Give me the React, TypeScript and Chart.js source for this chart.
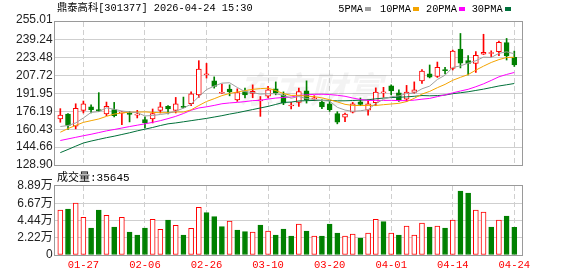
import React, { useEffect, useRef } from 'react';
import { Chart, registerables } from 'chart.js';

Chart.register(...registerables);

// ---- data ----
const dates = [
  '01-22', '01-23', '01-26', '01-27', '01-28', '01-29', '01-30', '02-02', '02-03', '02-04',
  '02-05', '02-06', '02-09', '02-10', '02-11', '02-12', '02-13', '02-24', '02-25', '02-26',
  '02-27', '03-02', '03-03', '03-04', '03-05', '03-06', '03-09', '03-10', '03-11', '03-12',
  '03-13', '03-16', '03-17', '03-18', '03-19', '03-20', '03-23', '03-24', '03-25', '03-26',
  '03-27', '03-30', '03-31', '04-01', '04-02', '04-03', '04-07', '04-08', '04-09', '04-10',
  '04-13', '04-14', '04-15', '04-16', '04-17', '04-20', '04-21', '04-22', '04-23', '04-24',
];
const opens = [
  169.5, 173.9, 163.1, 177.1, 180.3, 177.7, 173.9, 177.7, 174.6, 174.8,
  172.9, 168.9, 169.5, 177.1, 180.6, 177.1, 180.6, 182.9, 190.8, 208.5,
  203.1, 192.2, 195.8, 186.4, 193.7, 192.1, 185.5, 189.5, 196.1, 190.8,
  180.9, 184.0, 194.3, 187.3, 184.4, 182.9, 174.2, 171.1, 175.5, 184.7,
  177.2, 183.8, 192.5, 198.7, 192.6, 186.9, 193.0, 203.1, 209.2, 207.0,
  212.7, 214.0, 231.1, 221.0, 218.4, 226.7, 227.2, 228.9, 236.8, 223.8,
];
const highs = [
  178.6, 174.2, 182.9, 185.3, 182.0, 192.7, 184.4, 184.1, 176.0, 176.2,
  177.1, 171.3, 178.3, 184.1, 181.2, 188.5, 188.8, 193.4, 220.9, 218.5,
  206.6, 200.3, 199.6, 196.1, 196.7, 199.6, 189.3, 198.3, 202.2, 193.4,
  184.1, 196.7, 203.1, 190.0, 186.4, 185.0, 175.9, 174.6, 184.1, 188.0,
  186.4, 196.9, 197.4, 199.6, 195.2, 199.1, 202.2, 213.1, 217.1, 219.7,
  215.1, 230.2, 244.9, 225.4, 229.0, 244.2, 229.6, 238.1, 240.5, 229.3,
];
const lows = [
  166.6, 160.2, 160.8, 174.8, 174.8, 176.0, 172.4, 171.3, 164.5, 166.9,
  170.4, 161.6, 166.0, 174.8, 173.9, 174.8, 179.2, 181.2, 188.5, 205.6,
  196.7, 192.0, 189.9, 185.0, 188.0, 188.2, 171.8, 188.0, 190.8, 182.1,
  178.3, 180.6, 183.5, 185.6, 178.6, 176.2, 165.2, 167.2, 174.8, 181.2,
  172.9, 181.2, 188.6, 190.8, 185.0, 185.0, 192.1, 200.9, 205.7, 206.1,
  209.2, 212.7, 214.5, 208.3, 210.5, 226.3, 224.5, 225.4, 221.5, 215.8,
];
const closes = [
  173.0, 163.9, 178.8, 182.9, 177.7, 176.6, 180.6, 172.4, 175.5, 173.6,
  173.4, 166.0, 174.2, 180.1, 178.3, 182.9, 179.7, 191.7, 213.6, 209.2,
  198.1, 192.9, 193.4, 192.8, 190.8, 193.9, 186.2, 195.2, 192.6, 183.5,
  181.4, 193.7, 186.2, 188.2, 180.1, 177.7, 166.7, 173.9, 182.9, 182.4,
  182.9, 193.2, 192.8, 194.3, 186.0, 193.2, 195.2, 211.8, 206.3, 215.1,
  212.1, 229.3, 218.8, 218.4, 225.6, 228.2, 227.6, 237.1, 225.0, 217.1,
];
const volumes = [
  57980, 59270, 67000, 48570, 34790, 57980, 51150, 36080, 48570, 29630,
  25770, 34790, 45990, 33110, 45090, 38260, 25770, 34400, 61450, 54500,
  49350, 36460, 43800, 32210, 30020, 29630, 38650, 30920, 25770, 33500,
  24480, 39940, 30920, 24480, 24480, 39940, 28340, 24480, 27060, 21900,
  28340, 45990, 42900, 28340, 25770, 37360, 25770, 41230, 36080, 37360,
  34790, 45090, 82460, 79880, 57980, 55400, 36080, 45090, 50250, 35645,
];
const ma5Head = [162.8, 163.7, 166.0, 170.4];
const ma10Head = [157.8, 161.0, 163.8, 166.5, 168.0, 169.5, 171.8, 173.8, 174.8];
const ma20Head = [
  150.5, 151.9, 153.3, 154.7, 156.0, 157.5, 159.0, 160.2, 161.5, 162.8,
  164.0, 165.2, 166.5, 168.0, 169.8, 171.8, 174.3, 177.2, 179.2,
];
const ma30Head = [
  139.8, 142.6, 145.5, 148.3, 150.0, 151.5, 153.0, 154.3, 155.8, 157.3,
  159.0, 160.5, 162.0, 163.7, 165.2, 166.0, 167.0, 168.0, 169.0, 170.0,
  171.2, 172.4, 173.8, 175.0, 176.4, 177.8, 179.2, 180.6, 182.3,
];
const labelIndexes = [3, 11, 19, 27, 35, 43, 51, 59];
const priceTicks = [128.90, 144.66, 160.43, 176.19, 191.95, 207.72, 223.48, 239.24, 255.01];
const volTicks = [0, 22225, 44450, 66675, 88900];
const volTickLabels = ['0', '2.22万', '4.44万', '6.67万', '8.89万'];
const maNames = ['5PMA', '10PMA', '20PMA', '30PMA'];
const lastVolume = 35645;

// ---- styles ----
const RED = '#ff0000';
const GREEN = '#008000';
const MA_COLORS = ['#a0a0a0', '#f4a400', '#ff00ff', '#00703a'];
const TICK_FONT = "'Liberation Sans', 'Noto Sans CJK SC', sans-serif";
const MONO = "'Liberation Mono', 'Noto Sans CJK SC', monospace";

function movingAverage(n: number, head: number[]) {
  return closes.map((_, i) => {
    if (i < n - 1) return head[i];
    let s = 0;
    for (let k = i - n + 1; k <= i; k++) s += closes[k];
    return +(s / n).toFixed(2);
  });
}

const X_MIN = -0.69;
const X_MAX = 60.0;

const framePlugin = {
  id: 'frame',
  afterDraw(chart: any) {
    const { ctx, chartArea } = chart;
    const { left, right, top, bottom } = chartArea;
    ctx.save();
    ctx.strokeStyle = '#9a9a9a';
    ctx.lineWidth = 1;
    ctx.strokeRect(left - 0.5, top - 0.5, right - left + 1, bottom - top + 1);
    ctx.restore();
  },
};

const mainExtras = {
  id: 'mainExtras',
  beforeDatasetsDraw(chart: any) {
    const { ctx, chartArea } = chart;
    ctx.save();
    ctx.beginPath();
    ctx.rect(chartArea.left, chartArea.top, chartArea.right - chartArea.left, chartArea.bottom - chartArea.top);
    ctx.clip();
    ctx.fillStyle = 'rgba(150,150,150,0.11)';
    ctx.font = "italic bold 36px 'Noto Sans CJK SC'";
    ctx.textBaseline = 'middle';
    ctx.textAlign = 'left';
    ctx.fillText('东方财富', 238, 89);
    ctx.restore();
  },
  afterDraw(chart: any) {
    const { ctx } = chart;
    const ys = chart.scales.y;
    const topVal = priceTicks[priceTicks.length - 1];
    ctx.save();
    ctx.fillStyle = '#222';
    ctx.font = `12px ${TICK_FONT}`;
    ctx.textAlign = 'right';
    ctx.textBaseline = 'alphabetic';
    ctx.fillText(topVal.toFixed(2), 52.7, ys.getPixelForValue(topVal) + 0.5);
    ctx.restore();
  },
};

export default function App() {
  const mainRef = useRef<HTMLCanvasElement>(null);
  const volRef = useRef<HTMLCanvasElement>(null);

  useEffect(() => {
    const up = closes.map((c, i) => c >= opens[i]);
    const volUp = closes.map((c, i) => (i === 0 ? c >= opens[0] : c >= closes[i - 1]));
    const candleColor = up.map((u) => (u ? RED : GREEN));
    const bodyFill = up.map((u) => (u ? '#ffffff' : GREEN));
    const mas = [movingAverage(5, ma5Head), movingAverage(10, ma10Head), movingAverage(20, ma20Head), movingAverage(30, ma30Head)];

    const xScale = (showLabels: boolean) => ({
      type: 'linear',
      min: X_MIN,
      max: X_MAX,
      offset: false,
      grid: { offset: false, color: '#cfcfcf', lineWidth: 1, drawTicks: false },
      border: { display: false, dash: [5, 3] },
      ticks: {
        display: showLabels,
        color: RED,
        padding: 4,
        maxRotation: 0,
        autoSkip: false,
        font: { family: MONO, size: 10.5 },
        callback: (v: number) => dates[v] ?? '',
      },
      afterBuildTicks: (s: any) => {
        s.ticks = labelIndexes.map((v) => ({ value: v }));
      },
      afterFit: (s: any) => {
        s.height = showLabels ? 21 : 0;
      },
    });

    const main = new Chart(mainRef.current!, {
      type: 'bar',
      data: {
        datasets: [
          ...mas.map((arr, k) => ({
            type: 'line' as const,
            label: maNames[k],
            data: arr.map((v, i) => ({ x: i, y: v })),
            borderColor: MA_COLORS[k],
            borderWidth: 1,
            pointRadius: 0,
            tension: 0,
            order: 0,
          })),
          {
            type: 'bar' as const,
            label: 'body',
            data: opens.map((o, i) => ({ x: i, y: [o, closes[i]] })),
            backgroundColor: bodyFill,
            borderColor: candleColor,
            borderWidth: 1,
            borderSkipped: false,
            barThickness: 5,
            minBarLength: 1,
            grouped: false,
            order: 1,
          },
          {
            type: 'bar' as const,
            label: 'wick',
            data: lows.map((l, i) => ({ x: i, y: [l, highs[i]] })),
            backgroundColor: candleColor,
            borderWidth: 0,
            barThickness: 1,
            grouped: false,
            order: 2,
          },
        ] as any,
      },
      options: {
        responsive: false,
        animation: false,
        devicePixelRatio: 1,
        events: [],
        layout: { padding: { left: 0, top: 22, right: 56, bottom: 111 } },
        plugins: { legend: { display: false }, tooltip: { enabled: false } },
        scales: {
          x: xScale(false) as any,
          y: {
            type: 'linear',
            position: 'left',
            min: priceTicks[0],
            max: priceTicks[priceTicks.length - 1],
            grid: {
              drawTicks: false,
              lineWidth: 1,
              color: (c: any) => (c.index === 0 || c.index === priceTicks.length - 1 ? 'rgba(0,0,0,0)' : '#cfcfcf'),
            },
            border: { display: false },
            ticks: {
              color: '#222',
              padding: 2.3,
              autoSkip: false,
              font: { family: TICK_FONT, size: 12 },
              callback: (v: number, i: number) => (i === priceTicks.length - 1 ? '' : v.toFixed(2)),
            },
            afterBuildTicks: (s: any) => {
              s.ticks = priceTicks.map((v) => ({ value: v }));
            },
            afterFit: (s: any) => {
              s.width = 55;
            },
          } as any,
        },
      },
      plugins: [mainExtras, framePlugin],
    });

    const vol = new Chart(volRef.current!, {
      type: 'bar',
      data: {
        datasets: [
          {
            label: '成交量',
            data: volumes.map((v, i) => ({ x: i, y: v })),
            backgroundColor: volUp.map((u) => (u ? '#ffffff' : GREEN)),
            borderColor: volUp.map((u) => (u ? RED : GREEN)),
            borderWidth: 1,
            borderSkipped: false,
            barThickness: 5,
            grouped: false,
          },
        ] as any,
      },
      options: {
        responsive: false,
        animation: false,
        devicePixelRatio: 1,
        events: [],
        layout: { padding: { left: 0, top: 186, right: 56, bottom: 0 } },
        plugins: { legend: { display: false }, tooltip: { enabled: false } },
        scales: {
          x: xScale(true) as any,
          y: {
            type: 'linear',
            position: 'left',
            min: volTicks[0],
            max: volTicks[volTicks.length - 1],
            grid: {
              drawTicks: false,
              lineWidth: 1,
              color: (c: any) => (c.index === 0 || c.index === volTicks.length - 1 ? 'rgba(0,0,0,0)' : '#cfcfcf'),
            },
            border: { display: false },
            ticks: {
              color: '#222',
              padding: 2.3,
              autoSkip: false,
              font: { family: TICK_FONT, size: 12 },
              callback: (_v: number, i: number) => volTickLabels[i],
            },
            afterBuildTicks: (s: any) => {
              s.ticks = volTicks.map((v) => ({ value: v }));
            },
            afterFit: (s: any) => {
              s.width = 55;
            },
          } as any,
        },
      },
      plugins: [framePlugin],
    });

    return () => {
      main.destroy();
      vol.destroy();
    };
  }, []);

  const legendX = [338.3, 380, 426, 471.7];
  const textStyle: React.CSSProperties = {
    position: 'absolute',
    font: `10.3px ${MONO}`,
    lineHeight: '12px',
    color: '#000',
    whiteSpace: 'nowrap',
  };

  return (
    <div style={{ position: 'fixed', left: 0, top: 0, width: 578, height: 276, background: '#fff', overflow: 'hidden' }}>
      <canvas ref={mainRef} width={578} height={276} style={{ position: 'absolute', left: 0, top: 0, width: 578, height: 276 }} />
      <canvas ref={volRef} width={578} height={276} style={{ position: 'absolute', left: 0, top: 0, width: 578, height: 276 }} />
      <div style={{ ...textStyle, left: 57, top: 2 }}>鼎泰高科[301377] 2026-04-24 15:30</div>
      {maNames.map((n, k) => (
        <div key={n} style={{ ...textStyle, left: legendX[k], top: 3, display: 'flex', alignItems: 'center' }}>
          <span>{n}</span>
          <span style={{ display: 'inline-block', width: 6, height: 4, marginLeft: 2, background: MA_COLORS[k] }} />
        </div>
      ))}
      <div style={{ ...textStyle, font: `11px ${MONO}`, left: 57, top: 171.5 }}>成交量:{lastVolume}</div>
    </div>
  );
}
